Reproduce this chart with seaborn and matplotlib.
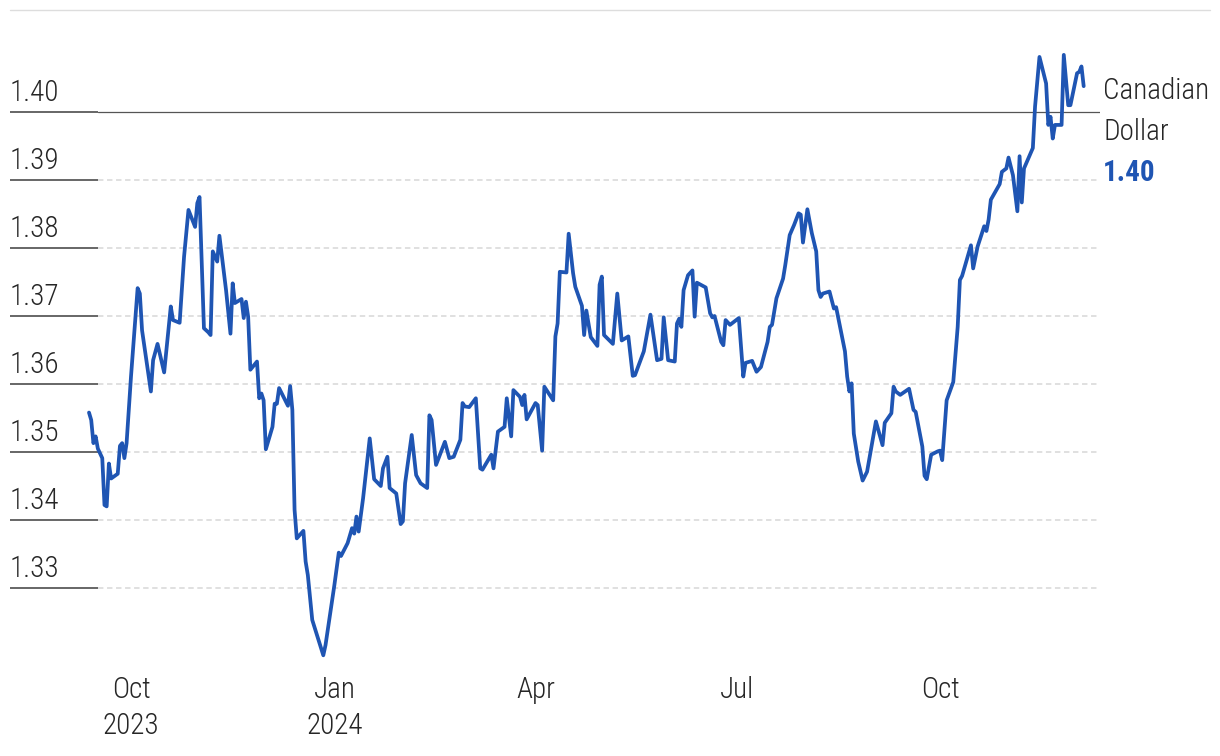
import numpy as np
import pandas as pd
import seaborn as sns
import matplotlib
matplotlib.use("Agg")
import matplotlib.pyplot as plt
from matplotlib import font_manager, transforms
from matplotlib.lines import Line2D

# ---------------- data ----------------
series_name = "Canadian\nDollar"
start_date = "2023-10-01"
day_offset = [
    -19, -18, -17, -16, -15, -13, -12, -11, -10, -9, -6, -5, -4, -3, -2, 0, 3, 4, 5, 9,
    10, 12, 15, 18, 19, 22, 24, 26, 29, 30, 31, 33, 35, 36, 37, 39, 40, 43, 45, 46,
    47, 50, 51, 52, 53, 54, 57, 58, 59, 60, 61, 64, 65, 66, 67, 71, 72, 73, 74, 75,
    78, 79, 80, 82, 87, 88, 92, 94, 95, 98, 100, 101, 102, 103, 105, 108, 110, 113, 114, 116,
    117, 120, 122, 123, 124, 127, 129, 131, 134, 135, 136, 138, 142, 144, 146, 149, 150, 151, 153, 156,
    158, 159, 163, 164, 166, 169, 170, 172, 173, 176, 177, 178, 179, 183, 184, 186, 187, 191, 192, 193,
    194, 197, 198, 200, 201, 204, 205, 206, 208, 211, 212, 213, 214, 218, 220, 222, 225, 227, 228, 232,
    235, 238, 240, 241, 243, 246, 247, 248, 249, 250, 252, 254, 255, 256, 260, 262, 263, 264, 267, 268,
    269, 271, 275, 277, 278, 281, 283, 285, 288, 289, 290, 292, 295, 296, 298, 300, 302, 303, 304, 306,
    308, 310, 311, 312, 313, 316, 318, 319, 323, 324, 325, 326, 327, 329, 331, 333, 337, 340, 341, 344,
    345, 346, 348, 352, 354, 355, 358, 359, 360, 362, 365, 366, 367, 369, 372, 373, 374, 375, 376, 380,
    381, 383, 386, 387, 388, 389, 393, 394, 396, 397, 399, 401, 402, 403, 404, 408, 409, 411, 414, 415,
    416, 417, 418, 421, 422, 424, 425, 428, 429, 430, 431,
]
cad_rate = [
    1.3558, 1.3547, 1.3513, 1.3523, 1.3505, 1.3491, 1.3422, 1.3420, 1.3483, 1.3461, 1.3468, 1.3509, 1.3513, 1.3491, 1.3513, 1.3611, 1.3741, 1.3733, 1.3679, 1.3589,
    1.3635, 1.3659, 1.3617, 1.3714, 1.3694, 1.3690, 1.3787, 1.3856, 1.3831, 1.3866, 1.3875, 1.3682, 1.3676, 1.3672, 1.3795, 1.3780, 1.3818, 1.3738, 1.3674, 1.3748,
    1.3719, 1.3725, 1.3697, 1.3721, 1.3699, 1.3621, 1.3633, 1.3579, 1.3586, 1.3576, 1.3504, 1.3537, 1.3571, 1.3571, 1.3594, 1.3568, 1.3597, 1.3562, 1.3415, 1.3373,
    1.3384, 1.3339, 1.3319, 1.3253, 1.3201, 1.3216, 1.3304, 1.3352, 1.3347, 1.3366, 1.3388, 1.3380, 1.3405, 1.3383, 1.3432, 1.3520, 1.3460, 1.3450, 1.3476, 1.3493,
    1.3447, 1.3439, 1.3394, 1.3398, 1.3454, 1.3525, 1.3466, 1.3454, 1.3447, 1.3554, 1.3547, 1.3481, 1.3515, 1.3491, 1.3493, 1.3518, 1.3572, 1.3567, 1.3566, 1.3579,
    1.3476, 1.3474, 1.3496, 1.3476, 1.3530, 1.3537, 1.3579, 1.3523, 1.3591, 1.3581, 1.3569, 1.3584, 1.3548, 1.3572, 1.3569, 1.3502, 1.3596, 1.3576, 1.3670, 1.3689,
    1.3765, 1.3764, 1.3821, 1.3763, 1.3743, 1.3715, 1.3672, 1.3708, 1.3669, 1.3656, 1.3746, 1.3758, 1.3672, 1.3659, 1.3733, 1.3664, 1.3670, 1.3612, 1.3613, 1.3648,
    1.3702, 1.3635, 1.3637, 1.3698, 1.3635, 1.3633, 1.3689, 1.3696, 1.3684, 1.3738, 1.3760, 1.3767, 1.3699, 1.3749, 1.3742, 1.3704, 1.3698, 1.3700, 1.3662, 1.3657,
    1.3694, 1.3687, 1.3697, 1.3611, 1.3631, 1.3634, 1.3618, 1.3625, 1.3662, 1.3684, 1.3687, 1.3726, 1.3755, 1.3775, 1.3819, 1.3834, 1.3851, 1.3849, 1.3808, 1.3857,
    1.3822, 1.3795, 1.3738, 1.3728, 1.3733, 1.3736, 1.3711, 1.3713, 1.3648, 1.3611, 1.3589, 1.3601, 1.3527, 1.3486, 1.3458, 1.3471, 1.3545, 1.3510, 1.3543, 1.3557,
    1.3596, 1.3589, 1.3584, 1.3593, 1.3562, 1.3559, 1.3508, 1.3465, 1.3460, 1.3496, 1.3501, 1.3502, 1.3488, 1.3576, 1.3603, 1.3643, 1.3684, 1.3753, 1.3759, 1.3804,
    1.3770, 1.3802, 1.3832, 1.3825, 1.3842, 1.3871, 1.3894, 1.3912, 1.3917, 1.3933, 1.3907, 1.3854, 1.3935, 1.3867, 1.3917, 1.3947, 1.4008, 1.4081, 1.4042, 1.3981,
    1.3993, 1.3961, 1.3981, 1.3981, 1.4084, 1.4010, 1.4010, 1.4057, 1.4059, 1.4067, 1.4038,
]
y_ticks = [1.33, 1.34, 1.35, 1.36, 1.37, 1.38, 1.39, 1.40]
y_tick_labels = ["1.33", "1.34", "1.35", "1.36", "1.37", "1.38", "1.39", "1.40"]
x_tick_dates = ["2023-10-01", "2024-01-01", "2024-04-01", "2024-07-01", "2024-10-01"]
x_tick_labels = ["Oct\n2023", "Jan\n2024", "Apr", "Jul", "Oct"]
highlight_level = 1.40

LINE_COLOR = "#1f55b3"
TEXT_COLOR = "#262626"

# ---------------- fonts ----------------
def pick_font(weight_pref):
    cands = ["Roboto Condensed", "Liberation Sans Narrow", "Noto Sans Condensed",
             "Open Sans Condensed", "Noto Sans Display Condensed", "DejaVu Sans Condensed"]
    tl = font_manager.fontManager.ttflist
    for c in cands:
        fs = [f for f in tl if f.name == c and f.style == "normal"]
        if fs:
            fs.sort(key=lambda f: abs((f.weight if isinstance(f.weight, int) else 400) - weight_pref))
            return font_manager.FontProperties(fname=fs[0].fname)
    fs = [f for f in tl if "condensed" in str(f.stretch).lower() and f.style == "normal"]
    if fs:
        fs.sort(key=lambda f: abs((f.weight if isinstance(f.weight, int) else 400) - weight_pref))
        return font_manager.FontProperties(fname=fs[0].fname)
    return font_manager.FontProperties(family="DejaVu Sans",
                                       weight="bold" if weight_pref > 500 else "normal")

fp_reg = pick_font(300)
fp_bold = pick_font(700)
FS = 21

# ---------------- figure ----------------
sns.set_theme(style="white")
W, H = 1220, 756
fig = plt.figure(figsize=(W / 100, H / 100), dpi=100)
L, R, T, B = 10, 1100, 10, 665
ax = fig.add_axes([L / W, 1 - B / H, (R - L) / W, (B - T) / H])

df = pd.DataFrame({
    "date": pd.Timestamp(start_date) + pd.to_timedelta(day_offset, unit="D"),
    "rate": cad_rate,
})
sns.lineplot(data=df, x="date", y="rate", ax=ax, color=LINE_COLOR, linewidth=2.7,
             solid_joinstyle="round", solid_capstyle="round", zorder=5)

px_per_day = 2.2104
x0 = pd.Timestamp(start_date)
ax.set_xlim(x0 + pd.Timedelta(days=(L - 131) / px_per_day), x0 + pd.Timedelta(days=(R - 131) / px_per_day))
px_per_unit = 6800.0
ax.set_ylim(1.40 - (B - 112) / px_per_unit, 1.40 + (112 - T) / px_per_unit)

for s in ax.spines.values():
    s.set_visible(False)
ax.set_xlabel("")
ax.set_ylabel("")
ax.grid(False)

# gridlines
split = (98 - L) / (R - L)
for yv in y_ticks:
    ax.axhline(yv, xmin=0, xmax=split, color="#5a5a5a", lw=1.3, zorder=2, solid_capstyle="butt")
    if abs(yv - highlight_level) < 1e-9:
        ax.axhline(yv, xmin=split, xmax=1, color="#555555", lw=0.9, zorder=2)
    else:
        ln = ax.axhline(yv, xmin=split, xmax=1, color="#dddddd", lw=1.3, zorder=1)
        ln.set_dashes((3.0, 2.0))

# y labels (above gridlines, left aligned)
ax.set_yticks([])
trans = transforms.offset_copy(ax.get_yaxis_transform(), fig=fig, x=0, y=5, units="dots")
for yv, lab in zip(y_ticks, y_tick_labels):
    ax.text(0, yv, lab, transform=trans, ha="left", va="bottom", fontproperties=fp_reg,
            fontsize=FS, color=TEXT_COLOR)

# x ticks
ax.set_xticks(pd.to_datetime(x_tick_dates))
ax.set_xticklabels(x_tick_labels)
ax.tick_params(axis="x", length=0, pad=8)
for t in ax.get_xticklabels():
    t.set_fontproperties(fp_reg)
    t.set_fontsize(FS)
    t.set_color(TEXT_COLOR)
    t.set_linespacing(1.38)
    t.set_verticalalignment("top")

# top rule
fig.add_artist(Line2D([10 / W, 1210 / W], [1 - 10 / H, 1 - 10 / H], color="#dddddd", lw=1.0))

# right label
last_val = cad_rate[-1]
fig.text(1103 / W, 1 - 99 / H, "Canadian", fontproperties=fp_reg, fontsize=FS, color=TEXT_COLOR,
         ha="left", va="baseline")
fig.text(1103 / W, 1 - 140 / H, "Dollar", fontproperties=fp_reg, fontsize=FS, color=TEXT_COLOR,
         ha="left", va="baseline")
fig.text(1103 / W, 1 - 181 / H, f"{last_val:.2f}", fontproperties=fp_bold, fontsize=FS,
         color=LINE_COLOR, ha="left", va="baseline")

fig.savefig("out.png", dpi=100, facecolor="white")
